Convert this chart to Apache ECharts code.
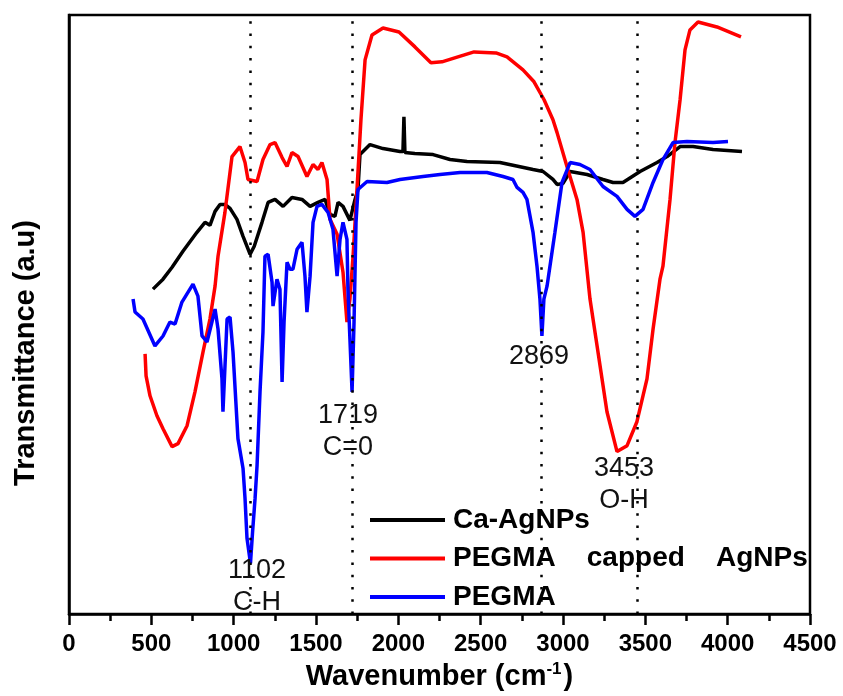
<!DOCTYPE html>
<html>
<head>
<meta charset="utf-8">
<script src="https://cdn.jsdelivr.net/npm/echarts@6/dist/echarts.min.js"></script>
<style>html,body{margin:0;padding:0;background:#fff}#c{width:843px;height:696px}</style>
</head>
<body>
<div id="c"></div>
<script>
// ---- data (wavenumber in cm^-1, transmittance in arbitrary units) ----
const caName = 'Ca-AgNPs';
const caX = [510,522,571,626,692,777,826,856,887,917,947,978,1020,1057,1100,1125,1172,1209,1251,1300,1354,1415,1464,1512,1555,1585,1615,1634,1664,1706,1737,1755,1767,1828,1907,2010,2028,2034,2040,2100,2211,2314,2417,2617,2818,2879,2939,2964,3000,3043,3146,3243,3304,3364,3468,3571,3632,3711,3790,3911,4087];
const caY = [326,326,336,348,364,383,393,390,404,411,411,407,396,379,361,369,393,413,416,409,418,416,409,413,416,401,399,413,409,395,416,426,461,471,467,464,464,499,463,462,461,456,454,453,446,444,436,431,432,444,441,436,433,433,444,453,459,469,469,466,464];

const pcName = 'PEGMA capped AgNPs';
const pcX = [462,468,492,534,571,626,662,717,765,814,856,887,905,947,990,1038,1069,1087,1142,1178,1221,1251,1294,1324,1354,1391,1445,1482,1512,1536,1567,1585,1628,1664,1688,1706,1725,1749,1773,1798,1840,1907,2004,2101,2198,2265,2362,2460,2593,2660,2757,2824,2885,2939,2964,3024,3085,3122,3164,3207,3267,3328,3389,3449,3510,3547,3589,3607,3650,3680,3711,3741,3771,3820,3935,4081];
const pcY = [261,239,219,199,186,168,171,189,223,263,296,329,359,403,459,469,453,436,434,456,471,473,458,449,463,459,439,451,446,453,436,396,381,343,293,316,359,426,496,556,581,588,584,569,553,554,559,564,563,559,546,534,516,496,483,449,416,383,316,269,203,163,169,193,236,286,336,349,416,473,516,566,586,594,589,579];

const pgName = 'PEGMA';
const pgX = [389,401,449,522,571,613,644,686,753,783,808,838,868,887,905,929,935,960,978,996,1026,1057,1069,1081,1102,1115,1130,1142,1160,1178,1190,1209,1233,1239,1263,1281,1294,1306,1324,1342,1360,1385,1415,1433,1445,1464,1482,1506,1536,1573,1603,1628,1646,1664,1688,1694,1706,1719,1731,1743,1755,1810,1931,2010,2150,2253,2375,2538,2636,2696,2721,2757,2781,2818,2842,2860,2872,2884,2903,2951,2994,3043,3103,3164,3243,3328,3389,3437,3486,3547,3607,3668,3753,3911,4002];
const pgY = [316,303,296,269,279,293,291,313,331,319,279,273,293,306,286,236,203,296,298,263,176,146,116,76,51,83,116,149,223,283,359,361,333,309,336,326,233,293,353,346,346,366,373,339,303,339,393,409,411,403,386,339,376,393,376,326,276,223,293,393,426,434,433,436,439,441,443,443,439,436,428,423,416,383,349,316,279,316,329,383,433,453,451,446,429,419,406,399,406,433,456,473,474,473,474];

const peakLines = [1102, 1719, 2869, 3453];
const peakTexts = ['1102\nC-H', '1719\nC=0', '2869', '3453\nO-H'];

const xTicks = [0,500,1000,1500,2000,2500,3000,3500,4000,4500];
const xTitle = 'Wavenumber (cm';
const yTitle = 'Transmittance (a.u)';

// ---- chart ----
const FONT = "'Liberation Sans', Arial, sans-serif";
const zip = (xs, ys) => xs.map((x, i) => [x, ys[i]]);
// label anchor points (placement of annotation text)
const annoAnchor = [[1142, 28], [1694, 183], [2854, 258], [3371, 130]];

const chart = echarts.init(document.getElementById('c'), null, {renderer: 'canvas'});
const lineSeries = (name, data, color) => ({
  name, type: 'line', data, showSymbol: false, symbol: 'none',
  lineStyle: {color, width: 3.5}, itemStyle: {color}, animation: false, z: 3
});

const s1 = lineSeries(caName, zip(caX, caY), '#000000');
s1.markLine = {
  silent: true, symbol: ['none', 'none'], animation: false,
  lineStyle: {color: '#000', width: 2.5, type: [2.5, 9.8]},
  label: {show: false},
  data: peakLines.map(v => ({xAxis: v}))
};
const s2 = lineSeries(pcName, zip(pcX, pcY), '#ff0000');
const s3 = lineSeries(pgName, zip(pgX, pgY), '#0000ff');
s3.markPoint = {
  silent: true, animation: false, symbol: 'circle', symbolSize: 0,
  label: {show: true, position: 'inside', formatter: '{b}', color: '#111', fontSize: 27,
          lineHeight: 32, fontFamily: FONT},
  data: peakTexts.map((t, i) => ({name: t, coord: annoAnchor[i]}))
};

chart.setOption({
  animation: false,
  backgroundColor: '#fff',
  grid: {left: 69, right: 33, top: 15, bottom: 80, show: true, borderColor: '#000', borderWidth: 2.5, backgroundColor: 'transparent'},
  xAxis: {
    type: 'value', min: xTicks[0], max: xTicks[xTicks.length - 1], interval: xTicks[1] - xTicks[0],
    axisLine: {show: true, lineStyle: {color: '#000', width: 2.5}},
    axisTick: {show: true, length: 11, lineStyle: {color: '#000', width: 2.5}},
    minorTick: {show: true, splitNumber: 2, length: 7, lineStyle: {color: '#000', width: 2.5}},
    splitLine: {show: false}, minorSplitLine: {show: false},
    axisLabel: {color: '#000', fontSize: 24, fontWeight: 'bold', fontFamily: FONT, margin: 18,
                formatter: v => String(v)},
    name: xTitle + '{s|-1})', nameLocation: 'middle', nameGap: 44,
    nameTextStyle: {color: '#000', fontSize: 29, fontWeight: 'bold', fontFamily: FONT,
      rich: {s: {fontSize: 17, fontWeight: 'bold', fontFamily: FONT, color: '#000', verticalAlign: 'top', padding: [0, 2, 14, 0]}}}
  },
  yAxis: {
    type: 'value', min: 0, max: 601,
    axisLine: {show: true, lineStyle: {color: '#000', width: 2.5}},
    axisTick: {show: false}, axisLabel: {show: false}, splitLine: {show: false}
  },
  legend: {
    orient: 'vertical', left: 370, top: 506, padding: 0,
    itemWidth: 75, itemHeight: 4, itemGap: 10.5, icon: 'rect',
    formatter: n => n.replace(/ /g, '    '),
    textStyle: {color: '#000', fontSize: 28, fontWeight: 'bold', fontFamily: FONT, lineHeight: 28, padding: [0, 0, 0, 3]},
    data: [caName, pcName, pgName]
  },
  graphic: [{
    type: 'text', x: 26, y: 353, rotation: Math.PI / 2, silent: true,
    style: {text: yTitle, fill: '#000', font: "bold 29px 'Liberation Sans', Arial, sans-serif", align: 'center', verticalAlign: 'middle'}
  }],
  series: [s1, s2, s3]
});
</script>
</body>
</html>
